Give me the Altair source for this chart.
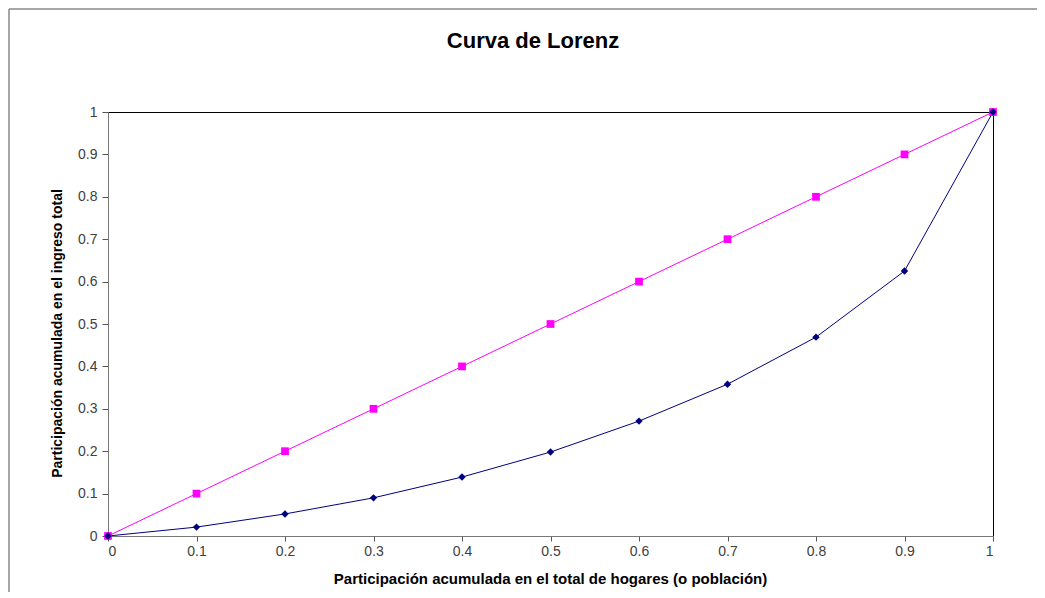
import altair as alt
import pandas as pd

x_vals = [0, 0.1, 0.2, 0.3, 0.4, 0.5, 0.6, 0.7, 0.8, 0.9, 1.0]
equality = [0, 0.1, 0.2, 0.3, 0.4, 0.5, 0.6, 0.7, 0.8, 0.9, 1.0]
lorenz = [0, 0.021, 0.052, 0.09, 0.139, 0.198, 0.271, 0.358, 0.469, 0.625, 1.0]
ticks = [0, 0.1, 0.2, 0.3, 0.4, 0.5, 0.6, 0.7, 0.8, 0.9, 1.0]
chart_title = ["Curva de Lorenz"]

df_eq = pd.DataFrame({"x": x_vals, "y": equality})
df_lo = pd.DataFrame({"x": x_vals, "y": lorenz})
df_title = pd.DataFrame({"t": chart_title})

FONT = "Liberation Sans"

xs = alt.Scale(domain=[0, 1], nice=False)
ys = alt.Scale(domain=[0, 1], nice=False)

x_axis = alt.Axis(
    values=ticks, format="~g", grid=False,
    title="Participación acumulada en el total de hogares (o población)",
    titleFont=FONT, titleFontSize=15, titleFontWeight="bold", titleColor="#000000",
    titleX=442, titleY=42, titleAlign="center", titleBaseline="middle", titleAnchor="start",
    labelFont=FONT, labelFontSize=14, labelColor="#404040", labelPadding=3,
    tickColor="#555555", tickSize=5, domainColor="#777777",
)
y_axis = alt.Axis(
    values=ticks, format="~g", grid=False,
    title="Participación acumulada en el ingreso total",
    titleFont=FONT, titleFontSize=14, titleFontWeight="bold", titleColor="#000000",
    titleX=-51, titleY=221, titleAngle=-90, titleAlign="center", titleBaseline="middle",
    titleAnchor="start",
    labelFont=FONT, labelFontSize=14, labelColor="#404040", labelPadding=5,
    tickColor="#555555", tickSize=6, domainColor="#777777",
)

eq_line = alt.Chart(df_eq).mark_line(color="#FF00FF", strokeWidth=1).encode(
    x=alt.X("x:Q", scale=xs, axis=x_axis), y=alt.Y("y:Q", scale=ys, axis=y_axis)
)
eq_pts = alt.Chart(df_eq).mark_point(shape="square", filled=True, color="#FF00FF", size=60, opacity=1).encode(
    x=alt.X("x:Q", scale=xs), y=alt.Y("y:Q", scale=ys)
)
lo_line = alt.Chart(df_lo).mark_line(color="#000080", strokeWidth=1).encode(
    x=alt.X("x:Q", scale=xs), y=alt.Y("y:Q", scale=ys)
)
lo_pts = alt.Chart(df_lo).mark_point(shape="diamond", filled=True, color="#000080", size=55, opacity=1).encode(
    x=alt.X("x:Q", scale=xs), y=alt.Y("y:Q", scale=ys)
)

border_left = alt.Chart(df_title).mark_rule(color="#888888", strokeWidth=1.5).encode(
    x=alt.value(-99), y=alt.value(-103), y2=alt.value(480)
)
border_top = alt.Chart(df_title).mark_rule(color="#888888", strokeWidth=1.5).encode(
    x=alt.value(-99), x2=alt.value(940), y=alt.value(-103)
)
title = alt.Chart(df_title).mark_text(
    font=FONT, fontSize=22, fontWeight="bold", color="#000000", align="center", baseline="alphabetic"
).encode(x=alt.value(425), y=alt.value(-64), text="t:N")

chart = alt.layer(border_left, border_top, eq_line, lo_line, eq_pts, lo_pts, title).properties(
    width=885, height=424,
    padding={"left": 100, "top": 104, "right": 44, "bottom": 58},
    autosize=alt.AutoSizeParams(type="none"),
).configure(background="#ffffff").configure_view(stroke="#000000", strokeWidth=1)

chart.save("out.html", embed_options={"renderer": "svg", "actions": False})
